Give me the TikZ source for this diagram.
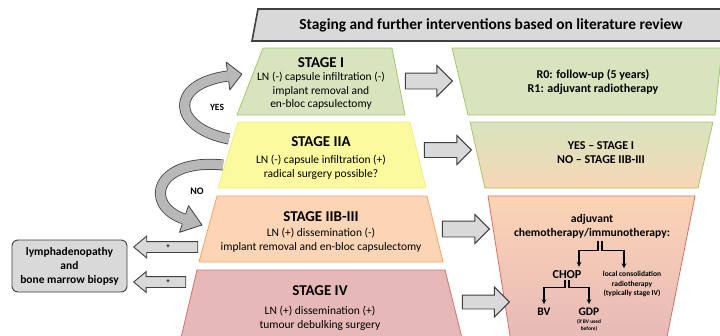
\documentclass[tikz,border=0pt]{standalone}
\usepackage{fontspec}
\setmainfont{Carlito}
\usepackage{tikz}
\usetikzlibrary{arrows,shapes.arrows,positioning}
\definecolor{GreenFill}{HTML}{D7E4BD}
\definecolor{GreenLine}{HTML}{A9C46C}
\definecolor{YellowFill}{HTML}{FBFA9E}
\definecolor{YellowLine}{HTML}{EDEC86}
\definecolor{OrangeFill}{HTML}{FBD5B5}
\definecolor{OrangeLine}{HTML}{F5A465}
\definecolor{PinkFill}{HTML}{E6B9B8}
\definecolor{PinkLine}{HTML}{D0716C}
\definecolor{GreyFill}{HTML}{D9D9D9}
\definecolor{GreyLine}{HTML}{3F3F3F}
\newcommand{\Hd}[1]{{\fontsize{15}{18}\selectfont\bfseries #1}}

\begin{document}
\begin{tikzpicture}[x=1pt, y=-1pt,
		every node/.style={align=center, inner sep=0pt},
		stagebox/.style={line width=0.8pt, line join=round},
		body/.style={font=\fontsize{11.5}{13.5}\selectfont},
		bold/.style={font=\fontsize{12}{13.8}\selectfont\bfseries},
		blockarrow/.style={single arrow, draw=GreyLine, fill=GreyFill, line width=0.9pt,
			inner xsep=0pt, single arrow head indent=0pt, anchor=tip, minimum height=47pt},
		ribbon/.style={draw=GreyFill!85!black, line width=9.4pt,
			preaction={draw=GreyLine, line width=11pt}},
		ribbonhead/.style={fill=GreyFill!85!black, draw=GreyLine, line width=0.8pt, line join=round},
		branch/.style={-stealth, line width=1.1pt}]
		\useasboundingbox (0,0) rectangle (720,335);
		%
		% heading bar
		\filldraw[fill=GreyFill, draw=GreyLine, line width=1.6pt]
			(726,9) -- (258,9) -- (252,41) -- (726,41);
		\node (T) at (491,25) {\fontsize{15.4}{17}\selectfont\bfseries Staging and further interventions based on literature review};
		%
		% stages (left pyramid)
		\filldraw[stagebox, fill=GreenFill, draw=GreenLine]		(263,48) -- (392,48) -- (405,115) -- (237,115) -- cycle;
		\filldraw[stagebox, fill=YellowFill, draw=YellowLine]	(238,122) -- (410,122) -- (426,188) -- (218,188) -- cycle;
		\filldraw[stagebox, fill=OrangeFill, draw=OrangeLine]	(217,196) -- (427,196) -- (443,262) -- (199,262) -- cycle;
		\filldraw[stagebox, fill=PinkFill, draw=PinkLine]		(197,270) -- (445,270) -- (463,342) -- (180,342) -- cycle;
		%
		\node (A)		at (321,63)		{\Hd{STAGE I}};
		\node (A1)	[body, below=4pt of A]		{LN (-) capsule infiltration (-)\\implant removal and\\en-bloc capsulectomy};
		\node (B)		at (321,142)	{\Hd{STAGE IIA}};
		\node (B1)	[body, below=8pt of B]		{LN (-) capsule infiltration (+)\\radical surgery possible?};
		\node (C)		at (321,217)	{\Hd{STAGE IIB-III}};
		\node (C1)	[body, below=6pt of C]		{LN (+) dissemination (-)\\implant removal and en-bloc capsulectomy};
		\node (D)		at (320,291)	{\Hd{STAGE IV}};
		\node (D1)	[body, below=10pt of D]		{LN (+) dissemination (+)\\tumour debulking surgery};
		%
		% interventions (right funnel)
		\filldraw[stagebox, fill=GreenFill, draw=GreenLine]		(452,48) -- (722,48) -- (715,115) -- (468,115) -- cycle;
		\path[top color=GreenFill, bottom color=OrangeFill, middle color=GreenFill!60!OrangeFill]
			(470,122) -- (713,122) -- (698,188) -- (485,188) -- cycle;
		\draw[stagebox, draw=GreenLine]		(470,122) -- (713,122) -- (698,188) -- (485,188) -- cycle;
		\path[top color=OrangeFill, bottom color=PinkFill]
			(488,196) -- (695,196) -- (666,342) -- (511,342) -- cycle;
		\draw[stagebox, draw=PinkLine]		(488,196) -- (695,196) -- (666,342) -- (511,342) -- cycle;
		%
		\node (E)		[bold] at (593,82)		{R0: follow-up (5 years)\\R1: adjuvant radiotherapy};
		\node (F)		[bold] at (601,153)	{YES -- STAGE I\\NO -- STAGE IIB-III};
		\node (G)		[font=\fontsize{11.6}{14}\selectfont\bfseries] at (592,226)	{adjuvant\\chemotherapy/immunotherapy:};
		\node (H)		[font=\fontsize{12.2}{14}\selectfont\bfseries] at (567,275)	{CHOP};
		\node (I)		[font=\fontsize{7.5}{9.5}\selectfont\bfseries] at (632,284)	{local consolidation\\radiotherapy\\(typically stage IV)};
		\node (J)		[font=\fontsize{11.5}{14}\selectfont\bfseries] at (544,312)	{BV};
		\node (K)		[font=\fontsize{11.5}{14}\selectfont\bfseries] at (589,312)	{GDP};
		\node (K1)	[font=\fontsize{5.4}{7.5}\selectfont\bfseries, below=3pt of K]	{(if BV used\\before)};
		%
		\draw[branch]	([xshift=6pt]G.south) ++(0,3) -- ++(0,9) -| ([xshift=12pt,yshift=4pt]H.north);
		\draw[branch]	([xshift=10pt]G.south) ++(0,3) -- ++(0,9) -| ([yshift=3pt]I.north -| 624,0);
		\draw[branch]	([xshift=-2pt]H.south) ++(0,1) -- ++(0,7) -| ([yshift=4pt]J.north);
		\draw[branch]	([xshift=2pt]H.south) ++(0,1) -- ++(0,7) -| ([yshift=4pt]K.north);
		%
		% block arrows stage -> intervention
		\node (R1)	[blockarrow, inner ysep=7.5pt, single arrow head extend=7.5pt] at (453,81) {};
		\node (R2)	[blockarrow, inner ysep=7pt, single arrow head extend=7pt] at (472,150) {};
		\node (R3)	[blockarrow, inner ysep=7.5pt, single arrow head extend=6.5pt] at (490,229) {};
		\node (R4)	[blockarrow, inner ysep=6.5pt, single arrow head extend=8pt] at (510,302) {};
		%
		% side box
		\node (L)		[draw=GreyLine, fill=GreyFill, line width=0.9pt, rounded corners=6pt,
			minimum width=115pt, minimum height=52pt, font=\fontsize{11.5}{14}\selectfont\bfseries]
			at (69.5,266) {lymphadenopathy\\and\\bone marrow biopsy};
		\node (L1)	[blockarrow, inner ysep=5pt, minimum height=64pt, single arrow head extend=5.5pt,
			shape border rotate=180, single arrow tip angle=80] at (133,247) {};
		\node (L2)	[blockarrow, inner ysep=5pt, minimum height=52pt, single arrow head extend=5pt,
			shape border rotate=180, single arrow tip angle=80] at (133,282) {};
		\node (P1)	at (168,246.5)	{\fontsize{7}{8}\selectfont\bfseries +};
		\node (P2)	at (168,281.5)	{\fontsize{7}{8}\selectfont\bfseries +};
		%
		% curved decision arrows
		\coordinate (Yt) at (229,139);
		\coordinate (Ye) at (228,76);
		\draw[ribbon] (Yt) .. controls (172,128) and (168,84) .. (Ye);
		\filldraw[ribbonhead] (227.3,70.6) -- (226.2,62.1) -- (241.9,74.2) -- (229.8,89.9) -- (228.7,81.4);
		\node (Y)	at (217,107)	{\fontsize{9.5}{10}\selectfont\bfseries YES};
		%
		\coordinate (Nt) at (223,165);
		\coordinate (Ne) at (184,219);
		\draw[ribbon] (Nt) .. controls (155,158) and (143,205) .. (Ne);
		\filldraw[ribbonhead] (185.8,213.8) -- (188.5,205.7) -- (202,225) -- (179.5,232.3) -- (182.2,224.2);
		\node (N)	at (197,191)	{\fontsize{10}{10}\selectfont\bfseries NO};
\end{tikzpicture}
\end{document}
